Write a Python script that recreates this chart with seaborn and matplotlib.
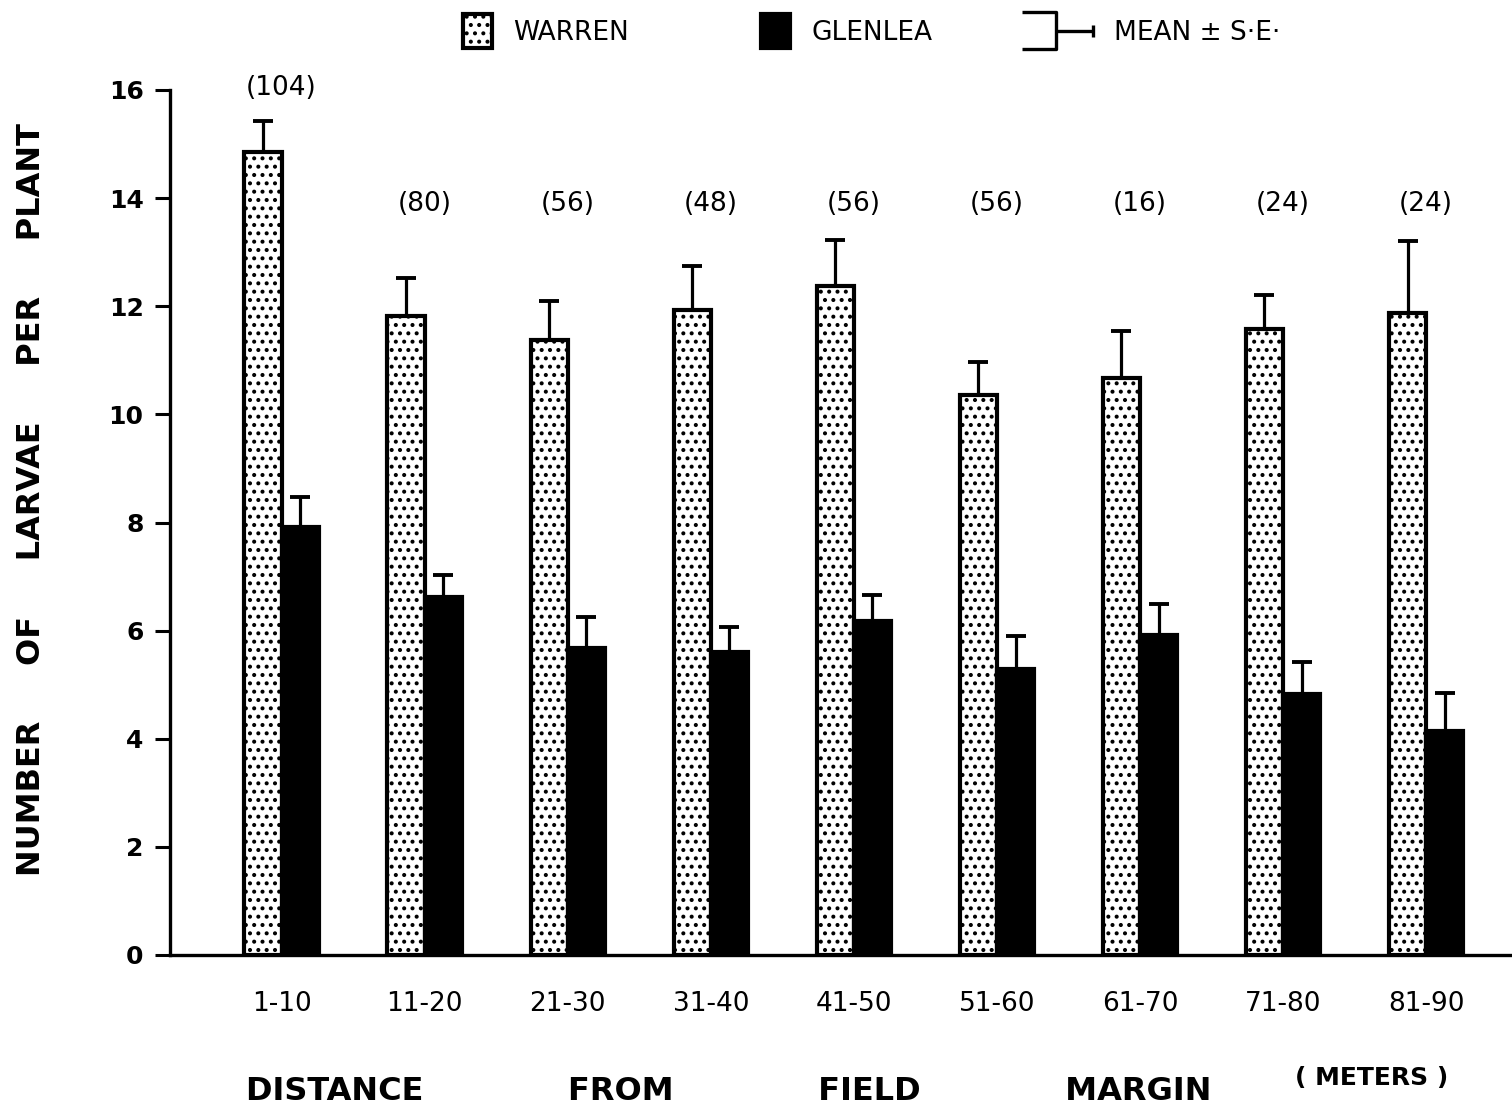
import numpy as np
import pandas as pd
import matplotlib
matplotlib.use("Agg")
import matplotlib.pyplot as plt
import seaborn as sns
from matplotlib.patches import Patch, Rectangle
from matplotlib.lines import Line2D
from matplotlib.legend_handler import HandlerBase

# ---------------- data ----------------
distances = ["1-10", "11-20", "21-30", "31-40", "41-50", "51-60", "61-70", "71-80", "81-90"]
n_counts = [104, 80, 56, 48, 56, 56, 16, 24, 24]
warren_mean = [14.85, 11.82, 11.38, 11.93, 12.37, 10.36, 10.67, 11.58, 11.88]
warren_se = [0.58, 0.70, 0.72, 0.82, 0.86, 0.61, 0.87, 0.63, 1.33]
glenlea_mean = [7.92, 6.62, 5.68, 5.60, 6.18, 5.29, 5.92, 4.83, 4.14]
glenlea_se = [0.55, 0.41, 0.57, 0.47, 0.48, 0.61, 0.57, 0.59, 0.71]
sites = ["WARREN", "GLENLEA"]
y_ticks = [0, 2, 4, 6, 8, 10, 12, 14, 16]

df = pd.DataFrame({
    "distance": distances * 2,
    "site": [sites[0]] * len(distances) + [sites[1]] * len(distances),
    "mean": warren_mean + glenlea_mean,
    "se": warren_se + glenlea_se,
})

# ---------------- style ----------------
sns.set_theme(style="white")
plt.rcParams["font.family"] = ["DejaVu Sans"]
plt.rcParams["hatch.linewidth"] = 1.7
plt.rcParams["hatch.color"] = "black"
for k in ["text.color", "axes.labelcolor", "xtick.color", "ytick.color", "axes.edgecolor"]:
    plt.rcParams[k] = "black"

fig = plt.figure(figsize=(15.12, 11.12), dpi=100)
ax = fig.add_axes([170 / 1512, 1 - 955 / 1112, 1 - 170 / 1512, (955 - 90) / 1112])

sns.barplot(data=df, x="distance", y="mean", hue="site", hue_order=sites,
            palette={"WARREN": "white", "GLENLEA": "black"},
            width=0.52, gap=0, edgecolor="black", linewidth=3,
            errorbar=None, legend=False, saturation=1, ax=ax)

# hatch warren bars
for bar in ax.containers[0]:
    bar.set_hatch("..")

# error bars (upper only)
for cont, site in zip(ax.containers, sites):
    sub = df[df["site"] == site]
    xs = [b.get_x() + b.get_width() / 2 for b in cont]
    ax.errorbar(xs, sub["mean"].values,
                yerr=[np.zeros(len(sub)), sub["se"].values],
                fmt="none", ecolor="black", elinewidth=2.3,
                capsize=7.5, capthick=2.8, zorder=1)

# sample size labels
tops = np.array(warren_mean) + np.array(warren_se)
for i, n in enumerate(n_counts):
    ypos = max(13.9, tops[i] + 0.6)
    ax.text(i, ypos, f"({n})", ha="center", va="center", fontsize=19, color="black")

ax.set_ylim(0, 16)
ax.set_xlim(-0.78, 8.6)
ax.set_yticks(y_ticks)
ax.set_yticklabels([str(t) for t in y_ticks], fontsize=18, fontweight="semibold")
ax.tick_params(axis="y", direction="out", length=11, width=2.2, pad=8, left=True, color="black")
ax.tick_params(axis="x", length=0, pad=26, labelsize=19)
sns.despine(ax=ax, top=True, right=True)
for s in ["left", "bottom"]:
    ax.spines[s].set_linewidth(2.4)
    ax.spines[s].set_color("black")
ax.set_xlabel("")
ax.set_ylabel("")

# axis titles
fig.text(32 / 1512, 1 - 500 / 1112,
         "NUMBER     OF     LARVAE     PER     PLANT",
         rotation=90, ha="center", va="center", fontsize=23, fontweight="bold")
fig.text(729 / 1512, 1 - 1092 / 1112,
         "DISTANCE             FROM             FIELD             MARGIN",
         ha="center", va="center", fontsize=23, fontweight="bold")
fig.text(1372 / 1512, 1 - 1078 / 1112, "( METERS )",
         ha="center", va="center", fontsize=18, fontweight="bold")


# ---------------- legend ----------------
class BoxHandler(HandlerBase):
    def create_artists(self, legend, orig_handle, xdescent, ydescent,
                       width, height, fontsize, trans):
        h = height * 1.85
        w = h * 0.85
        x0 = -xdescent + width - w
        y0 = -ydescent + height / 2 - h / 2
        p = Rectangle((x0, y0), w, h, facecolor=orig_handle.get_facecolor(),
                      edgecolor="black", hatch=orig_handle.get_hatch(),
                      linewidth=3, transform=trans)
        return [p]


class MeanSEHandler(HandlerBase):
    def create_artists(self, legend, orig_handle, xdescent, ydescent,
                       width, height, fontsize, trans):
        x0 = -xdescent
        h = height * 2.0
        yc = -ydescent + height / 2
        xb = x0 + width * 0.48
        xe = x0 + width
        kw = dict(color="black", linewidth=2.4, transform=trans,
                  solid_capstyle="butt")
        br = Line2D([x0, xb, xb, x0], [yc + h / 2, yc + h / 2, yc - h / 2, yc - h / 2], **kw)
        ln = Line2D([xb, xe], [yc, yc], **kw)
        cap = Line2D([xe, xe], [yc - h * 0.16, yc + h * 0.16], **kw)
        return [br, ln, cap]


class MeanSE:
    pass


handles = [Patch(facecolor="white", hatch=".."), Patch(facecolor="black"), MeanSE()]
labels = ["WARREN", "GLENLEA", "MEAN ± S·E·"]
fig.legend(handles, labels, loc="center left",
           bbox_to_anchor=(421 / 1512, 1 - 33 / 1112),
           ncol=3, frameon=False, fontsize=19, handlelength=2.7,
           handletextpad=0.8, columnspacing=3.4, borderpad=0, borderaxespad=0,
           labelcolor="black",
           handler_map={Patch: BoxHandler(), MeanSE: MeanSEHandler()})

fig.savefig("out.png", dpi=100)
